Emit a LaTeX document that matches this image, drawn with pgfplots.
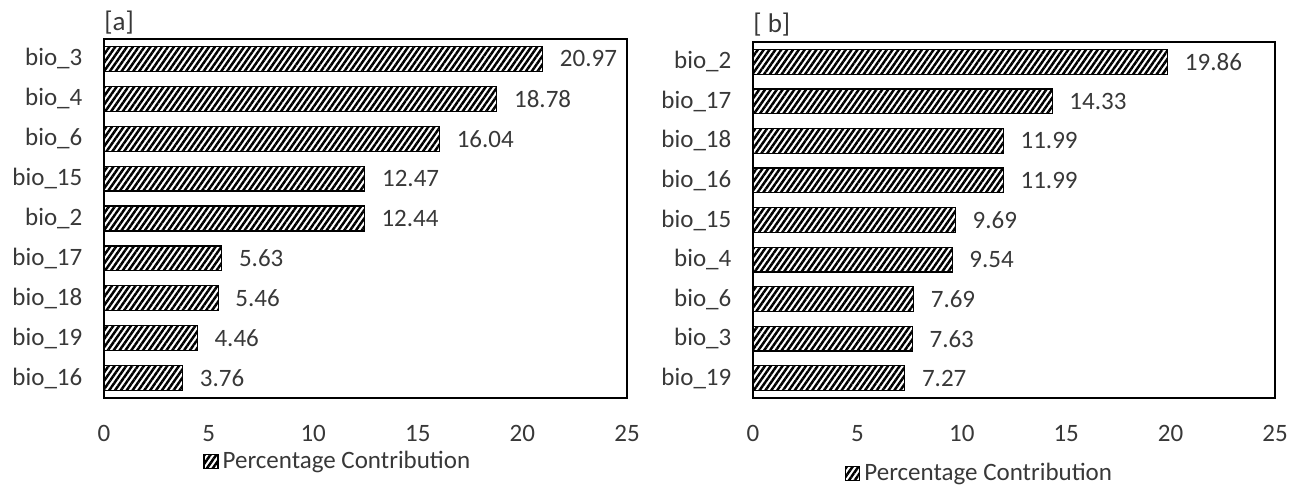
\documentclass[border=0pt]{standalone}
\usepackage{fontspec}
\setmainfont{Carlito}
\usepackage{pgfplots}
\pgfplotsset{compat=1.18}
\usetikzlibrary{patterns.meta}
\definecolor{txt}{HTML}{383838}
\pgfplotsset{
  panel/.style={
    anchor=south west,
    scale only axis,
    xbar,
    y dir=reverse,
    xmin=0, xmax=25,
    ymin=-0.5, ymax=8.5,
    xtick={0,5,...,25},
    ytick={0,...,8},
    major tick length=0pt,
    axis line style={black, line width=0.7pt},
    tick label style={font=\fontsize{12.5}{15}\selectfont, text=txt},
    /pgf/number format/assume math mode=true,
    xticklabel style={yshift=-10pt},
    yticklabel style={xshift=-7.3pt},
    bar width=0.625,
    nodes near coords,
    point meta=x,
    nodes near coords style={font=\fontsize{12.5}{15}\selectfont, text=txt, anchor=west, xshift=5pt,
      /pgf/number format/.cd, fixed, precision=2, fixed zerofill, assume math mode=true},
    legend style={draw=none, fill=none, font=\fontsize{12.5}{15}\selectfont, text=txt, anchor=center, inner sep=0pt},
    legend image code/.code={\draw[#1] (0pt,-3.5pt) rectangle (7pt,3.5pt);},
    clip=false,
  },
  barstyle/.style={draw=black, line width=0.6pt, fill=white,
    pattern={Lines[angle=55, distance=2.4pt, line width=1.25pt]}, pattern color=black},
}
\begin{document}
\begin{tikzpicture}
\path (0,0) rectangle (650.5pt,243.5pt);
\begin{axis}[panel, name=A, at={(52pt,44.5pt)}, width=261.5pt, height=179.5pt,
  yticklabels={bio\_3,bio\_4,bio\_6,bio\_15,bio\_2,bio\_17,bio\_18,bio\_19,bio\_16},
  legend style={at={(0.449,-0.177)}}]
\addplot[barstyle] coordinates {(20.97,0) (18.78,1) (16.04,2) (12.47,3) (12.44,4) (5.63,5) (5.46,6) (4.46,7) (3.76,8)};
\addlegendentry{Percentage Contribution}
\end{axis}
\node[anchor=base west, inner sep=0pt, font=\fontsize{13.5}{16}\selectfont, text=txt] at ([yshift=4.5pt]A.north west) {[a]};
\begin{axis}[panel, name=B, at={(376.5pt,44.5pt)}, width=261pt, height=178pt,
  yticklabels={bio\_2,bio\_17,bio\_18,bio\_16,bio\_15,bio\_4,bio\_6,bio\_3,bio\_19},
  legend style={at={(0.436,-0.212)}}]
\addplot[barstyle] coordinates {(19.86,0) (14.33,1) (11.99,2) (11.99,3) (9.69,4) (9.54,5) (7.69,6) (7.63,7) (7.27,8)};
\addlegendentry{Percentage Contribution}
\end{axis}
\node[anchor=base west, inner sep=0pt, font=\fontsize{13.5}{16}\selectfont, text=txt] at ([yshift=5pt]B.north west) {[ b]};
\end{tikzpicture}
\end{document}
